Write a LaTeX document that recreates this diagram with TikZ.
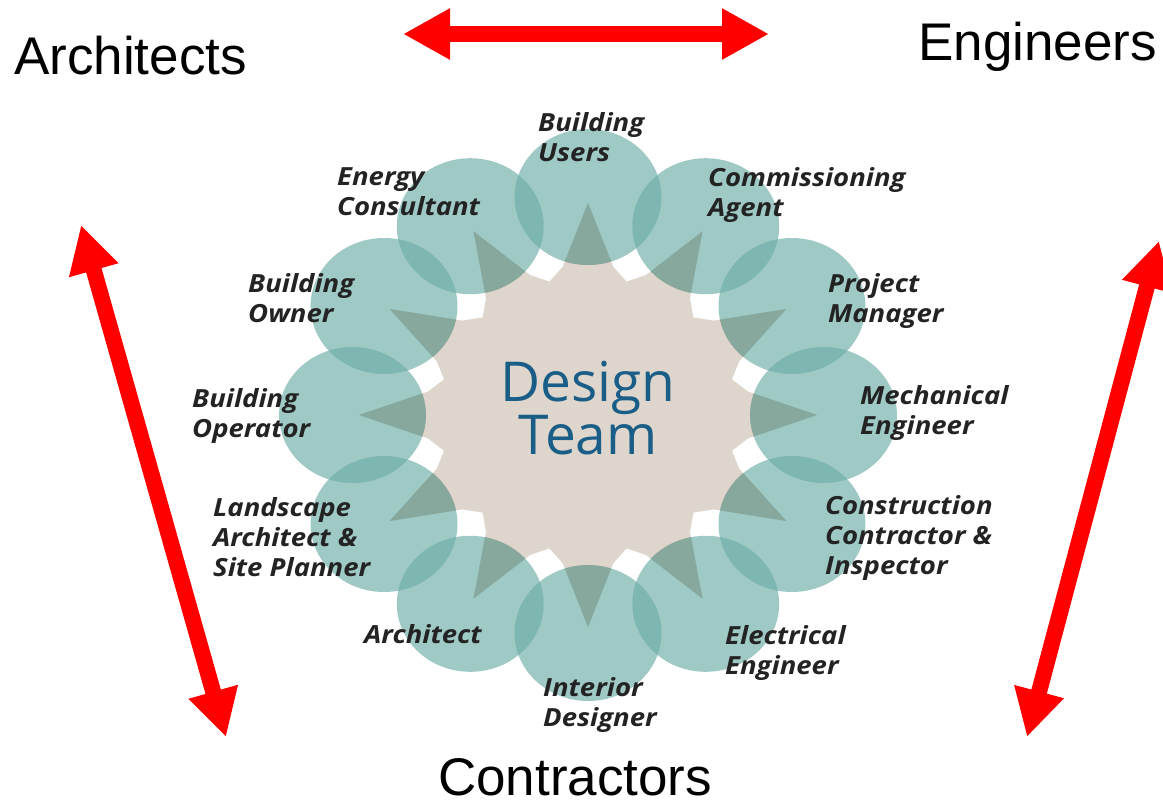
\documentclass[tikz,border=0pt]{standalone}
\usepackage{fontspec}
\setmainfont{Liberation Sans}
\newfontfamily\labelfont{Open Sans}
\newfontfamily\memberfont{Open Sans}[FakeStretch=1.1]
\usetikzlibrary{arrows.meta}

\definecolor{hubbeige}{RGB}{222,214,205}
\definecolor{pointbase}{RGB}{183,159,141}
\definecolor{ringteal}{RGB}{109,173,167}
\definecolor{teamblue}{RGB}{26,94,136}
\definecolor{labelgrey}{RGB}{35,35,35}
\definecolor{arrowred}{RGB}{255,0,0}

% twelve-pointed hub: narrow points reaching the ring, shallow valleys between them
\newcommand\hubstar{(0:212) \foreach \k in {0,...,11} {
    -- (\k*30+9:150) -- (\k*30+15:138) -- (\k*30+21:150) -- (\k*30+30:212) } -- cycle}

\begin{document}
\begin{tikzpicture}[x=1pt,y=-1pt,
  member/.style={anchor=north west, inner sep=0pt, align=left, text=labelgrey,
    font=\memberfont\bfseries\itshape\fontsize{25}{30}\selectfont},
  corner/.style={anchor=base west, inner sep=0pt, font=\fontsize{53}{60}\selectfont},
  link/.style={line width=16pt, arrowred,
    {Triangle[length=47pt,width=48pt]}-{Triangle[length=47pt,width=48pt]}}]
\useasboundingbox (0,0) rectangle (1163,804);
\fill[white] (0,0) rectangle (1163,804);

% hub and ring of members (slightly wider than tall)
\begin{scope}[shift={(588,415)}, xscale=1.08]
  \fill[hubbeige] \hubstar;
  \foreach \n/\a in {users/-90, comm/-60, pm/-30, mech/0, constr/30, elec/60,
                     interior/90, arch/120, land/150, operator/180, owner/210, energy/240} {
    \coordinate (\n) at (\a:218);
    \begin{scope}
      \clip (\n) circle (68);
      \fill[pointbase] \hubstar;
    \end{scope}
  }
  \foreach \n in {users, comm, pm, mech, constr, elec, interior, arch, land, operator, owner, energy}
    \fill[ringteal, fill opacity=0.65] (\n) circle (68);
\end{scope}

\node[inner sep=0pt, align=center, text=teamblue,
  font=\labelfont\fontsize{55}{50}\selectfont] (team) at (588,408) {Design\\Team};

% member labels
\node[member] (lUsers)    at (538,112) {Building\\Users};
\node[member] (lEnergy)   at (337,167) {Energy\\Consultant};
\node[member] (lComm)     at (708,167) {Commissioning\\Agent};
\node[member] (lOwner)    at (248,273) {Building\\Owner};
\node[member] (lPM)       at (828,273) {Project\\Manager};
\node[member] (lOperator) at (192,388) {Building\\Operator};
\node[member] (lMech)     at (860,385) {Mechanical\\Engineer};
\node[member] (lLand)     at (213,497) {Landscape\\Architect \&\\Site Planner};
\node[member] (lConst)    at (825,495) {Construction\\Contractor \&\\Inspector};
\node[member] (lArch)     at (364,624) {Architect};
\node[member] (lElec)     at (725,625) {Electrical\\Engineer};
\node[member] (lInt)      at (543,677) {Interior\\Designer};

% disciplines
\node[corner] (architects)  at (14,74)   {Architects};
\node[corner] (engineers)   at (918,60)  {Engineers};
\node[corner] (contractors) at (438,795) {Contractors};

% double-headed links between disciplines
\coordinate (topL)   at (403,34);
\coordinate (topR)   at (769,34);
\coordinate (leftT)  at (81,225);
\coordinate (leftB)  at (226,737);
\coordinate (rightT) at (1159,241);
\coordinate (rightB) at (1027,737);
\draw[link] (topL) -- (topR);
\draw[link] (leftT) -- (leftB);
\draw[link] (rightT) -- (rightB);
\end{tikzpicture}
\end{document}
